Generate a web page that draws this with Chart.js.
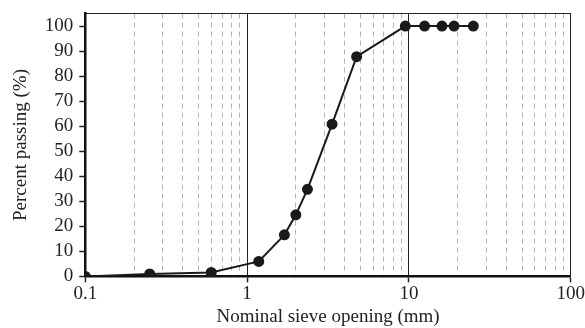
<!DOCTYPE html>
<html>
<head>
<meta charset="utf-8">
<script src="https://cdn.jsdelivr.net/npm/chart.js@4/dist/chart.umd.min.js"></script>
<style>
  html, body { margin: 0; padding: 0; background: #fff; }
  canvas { display: block; }
</style>
</head>
<body>
<canvas id="grading" width="585" height="328"></canvas>
<script>
// sieve sizes (mm) and percent passing
const sieveSizes = [0.1, 0.25, 0.6, 1.18, 1.7, 2, 2.36, 3.35, 4.75, 9.5, 12.5, 16, 19, 25];
const percentPassing = [0, 1, 1.6, 6, 16.6, 24.6, 34.8, 60.8, 87.8, 100, 100, 100, 100, 100];

const xMajorTicks = [0.1, 1, 10, 100];
const xMinorTicks = [0.2, 0.3, 0.4, 0.5, 0.6, 0.7, 0.8, 0.9,
  2, 3, 4, 5, 6, 7, 8, 9,
  20, 30, 40, 50, 60, 70, 80, 90];
const yTicks = [0, 10, 20, 30, 40, 50, 60, 70, 80, 90, 100];

const serif = 'Liberation Serif';
const fontSize = 19;

function isMajor(v) {
  return xMajorTicks.some((m) => Math.abs(m - v) < 1e-9);
}

const points = sieveSizes.map((s, i) => ({ x: s, y: percentPassing[i] }));

const ctx = document.getElementById('grading').getContext('2d');
new Chart(ctx, {
  type: 'scatter',
  data: {
    datasets: [{
      data: points,
      showLine: true,
      borderColor: '#1a1a1a',
      backgroundColor: '#1a1a1a',
      borderWidth: 2,
      pointRadius: 4.5,
      pointHoverRadius: 4.5
    }]
  },
  options: {
    responsive: false,
    animation: false,
    layout: { padding: { left: 10, right: 4, top: 13, bottom: 0 } },
    plugins: {
      legend: { display: false },
      tooltip: { enabled: false }
    },
    scales: {
      x: {
        type: 'logarithmic',
        min: 0.1,
        max: 100,
        afterBuildTicks: (scale) => {
          scale.ticks = xMajorTicks.concat(xMinorTicks)
            .sort((a, b) => a - b)
            .map((v) => ({ value: v, major: isMajor(v) }));
        },
        ticks: {
          autoSkip: false,
          maxRotation: 0,
          color: '#222',
          font: { family: serif, size: fontSize },
          padding: 0,
          callback: (v) => (isMajor(v) ? String(v) : '')
        },
        grid: {
          color: (c) => (c.tick && isMajor(c.tick.value) ? '#222' : '#b4b4b4'),
          lineWidth: 1,
          tickColor: (c) => (c.tick && isMajor(c.tick.value) ? '#222' : 'rgba(0,0,0,0)'),
          tickLength: 6,
          tickWidth: 1.5
        },
        border: {
          color: '#111',
          width: 2.5,
          dash: (c) => (c.tick && !isMajor(c.tick.value) ? [5, 4] : [])
        },
        title: {
          display: true,
          text: 'Nominal sieve opening (mm)',
          color: '#222',
          font: { family: serif, size: fontSize },
          padding: { top: 0, bottom: 0 }
        }
      },
      xTop: {
        type: 'logarithmic',
        position: 'top',
        min: 0.1,
        max: 100,
        ticks: { display: false },
        grid: { display: false, drawTicks: false },
        border: { color: '#222', width: 1 }
      },
      y: {
        min: 0,
        max: 105,
        afterBuildTicks: (scale) => {
          scale.ticks = yTicks.map((v) => ({ value: v }));
        },
        ticks: {
          color: '#222',
          font: { family: serif, size: fontSize, lineHeight: 0.8 },
          padding: 6
        },
        grid: {
          drawOnChartArea: false,
          tickColor: '#222',
          tickLength: 6,
          tickWidth: 1.5
        },
        border: { color: '#111', width: 2.5 },
        title: {
          display: true,
          text: 'Percent passing (%)',
          color: '#222',
          font: { family: serif, size: fontSize },
          padding: { top: 0, bottom: 6 }
        }
      },
      yRight: {
        position: 'right',
        min: 0,
        max: 105,
        ticks: { display: false },
        grid: { display: false, drawTicks: false },
        border: { color: '#222', width: 1 }
      }
    }
  }
});
</script>
</body>
</html>
